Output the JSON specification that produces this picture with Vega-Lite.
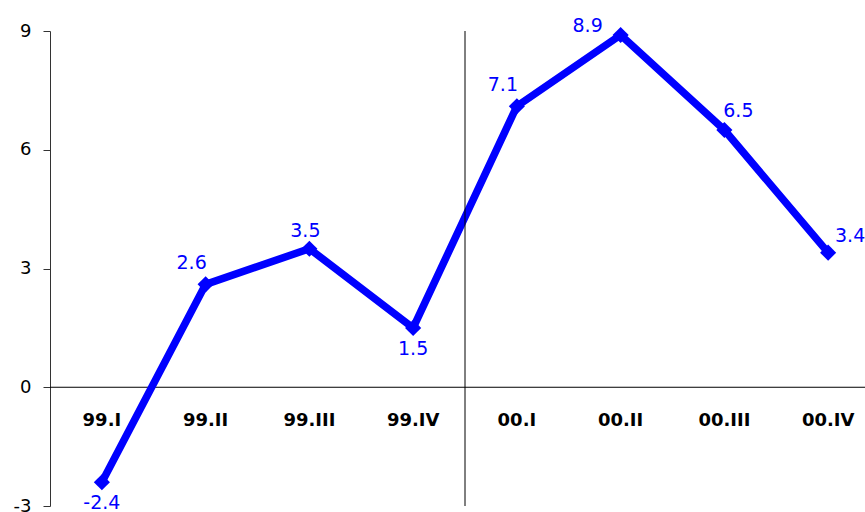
{
  "$schema": "https://vega.github.io/schema/vega-lite/v6.json",
  "width": 815,
  "height": 475,
  "autosize": {"type": "none"},
  "padding": {"left": 50, "top": 31, "right": 0, "bottom": 6},
  "background": "white",
  "config": {
    "view": {"stroke": null},
    "font": "DejaVu Sans",
    "locale": {"number": {"decimal": ".", "thousands": ",", "grouping": [3], "currency": ["$", ""], "minus": "-"}}
  },
  "data": {
    "values": [
      {"quarter": "99.I", "value": -2.4},
      {"quarter": "99.II", "value": 2.6},
      {"quarter": "99.III", "value": 3.5},
      {"quarter": "99.IV", "value": 1.5},
      {"quarter": "00.I", "value": 7.1},
      {"quarter": "00.II", "value": 8.9},
      {"quarter": "00.III", "value": 6.5},
      {"quarter": "00.IV", "value": 3.4}
    ]
  },
  "layer": [
    {
      "data": {"values": [{}]},
      "mark": {"type": "rule", "color": "black", "strokeWidth": 1},
      "encoding": {"y": {"datum": 0, "type": "quantitative"}}
    },
    {
      "mark": {"type": "line", "color": "#0000FF", "strokeWidth": 7.5},
      "encoding": {
        "x": {
          "field": "quarter", "type": "ordinal", "sort": null,
          "scale": {
            "type": "band",
            "domain": ["99.I", "99.II", "99.III", "99.IV", "00.I", "00.II", "00.III", "00.IV"],
            "range": [0, 830], "paddingInner": 0, "paddingOuter": 0
          },
          "axis": {
            "title": null, "orient": "bottom", "offset": -119, "domain": false, "ticks": false, "tickSize": 0,
            "labelPadding": 24, "labelAngle": 0, "labelFontSize": 18, "labelFontWeight": "bold",
            "labelColor": "black", "labelFont": "DejaVu Sans"
          }
        },
        "y": {
          "field": "value", "type": "quantitative",
          "scale": {"domain": [-3, 9], "nice": false, "zero": false},
          "axis": {
            "title": null, "values": [-3, 0, 3, 6, 9], "grid": false, "tickSize": 7,
            "labelPadding": 12, "labelFontSize": 18, "labelColor": "black", "labelFont": "DejaVu Sans",
            "domainColor": "#333333", "tickColor": "#333333", "domainWidth": 1, "tickWidth": 1
          }
        }
      }
    },
    {
      "data": {"values": [{}]},
      "mark": {"type": "rule", "color": "black", "strokeWidth": 1},
      "encoding": {"x": {"datum": "00.I", "type": "ordinal", "bandPosition": 0}}
    },
    {
      "mark": {"type": "point", "shape": "diamond", "filled": true, "size": 260, "color": "#0000FF", "opacity": 1},
      "encoding": {
        "x": {"field": "quarter", "type": "ordinal", "sort": null},
        "y": {"field": "value", "type": "quantitative"}
      }
    },
    {
      "transform": [{"filter": {"field": "quarter", "oneOf": ["99.I", "99.IV"]}}],
      "mark": {"type": "text", "color": "#0000FF", "fontSize": 19, "dx": 0, "dy": 21, "align": "center"},
      "encoding": {
        "x": {"field": "quarter", "type": "ordinal", "sort": null},
        "y": {"field": "value", "type": "quantitative"},
        "text": {"field": "value", "type": "quantitative", "format": ".1f"}
      }
    },
    {
      "transform": [{"filter": {"field": "quarter", "oneOf": ["99.II", "00.I"]}}],
      "mark": {"type": "text", "color": "#0000FF", "fontSize": 19, "dx": -14, "dy": -21, "align": "center"},
      "encoding": {
        "x": {"field": "quarter", "type": "ordinal", "sort": null},
        "y": {"field": "value", "type": "quantitative"},
        "text": {"field": "value", "type": "quantitative", "format": ".1f"}
      }
    },
    {
      "transform": [{"filter": {"field": "quarter", "oneOf": ["99.III"]}}],
      "mark": {"type": "text", "color": "#0000FF", "fontSize": 19, "dx": -4, "dy": -18, "align": "center"},
      "encoding": {
        "x": {"field": "quarter", "type": "ordinal", "sort": null},
        "y": {"field": "value", "type": "quantitative"},
        "text": {"field": "value", "type": "quantitative", "format": ".1f"}
      }
    },
    {
      "transform": [{"filter": {"field": "quarter", "oneOf": ["00.II"]}}],
      "mark": {"type": "text", "color": "#0000FF", "fontSize": 19, "dx": -33, "dy": -9, "align": "center"},
      "encoding": {
        "x": {"field": "quarter", "type": "ordinal", "sort": null},
        "y": {"field": "value", "type": "quantitative"},
        "text": {"field": "value", "type": "quantitative", "format": ".1f"}
      }
    },
    {
      "transform": [{"filter": {"field": "quarter", "oneOf": ["00.III"]}}],
      "mark": {"type": "text", "color": "#0000FF", "fontSize": 19, "dx": 14, "dy": -19, "align": "center"},
      "encoding": {
        "x": {"field": "quarter", "type": "ordinal", "sort": null},
        "y": {"field": "value", "type": "quantitative"},
        "text": {"field": "value", "type": "quantitative", "format": ".1f"}
      }
    },
    {
      "transform": [{"filter": {"field": "quarter", "oneOf": ["00.IV"]}}],
      "mark": {"type": "text", "color": "#0000FF", "fontSize": 19, "dx": 22, "dy": -17, "align": "center"},
      "encoding": {
        "x": {"field": "quarter", "type": "ordinal", "sort": null},
        "y": {"field": "value", "type": "quantitative"},
        "text": {"field": "value", "type": "quantitative", "format": ".1f"}
      }
    }
  ]
}
